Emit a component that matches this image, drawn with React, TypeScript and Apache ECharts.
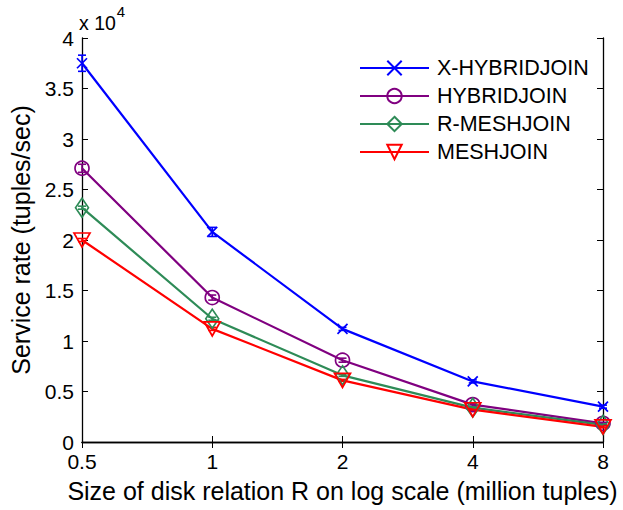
import React, { useEffect, useRef } from "react";
import * as echarts from "echarts";

const sizes = [0.5, 1, 2, 4, 8];
const xHybridjoin = [37500, 20800, 11200, 6000, 3500];
const hybridjoin = [27100, 14300, 8100, 3700, 1850];
const rMeshjoin = [23200, 12200, 6600, 3400, 1700];
const meshjoin = [20000, 11200, 6100, 3200, 1500];
const xHybridErr = [800, 450, 150, 150, 150];
const hybridErr = [400, 250, 200, 150, 100];
const rMeshErr = [150, 150, 100, 100, 100];
const meshErr = [150, 150, 100, 100, 100];
const yTicks = ["0", "0.5", "1", "1.5", "2", "2.5", "3", "3.5", "4"];

const FONT = "Liberation Sans, Arial, sans-serif";

export default function App() {
  const ref = useRef<HTMLDivElement>(null);
  useEffect(() => {
    if (!ref.current) return;
    const chart = echarts.init(ref.current, undefined, { renderer: "svg" });
    const seriesDefs = [
      { name: "X-HYBRIDJOIN", data: xHybridjoin, err: xHybridErr, color: "#0000ff", symbol: "path://M0,0L10,10M10,0L0,10", size: [10, 10] },
      { name: "HYBRIDJOIN", data: hybridjoin, err: hybridErr, color: "#800080", symbol: "circle", size: 14 },
      { name: "R-MESHJOIN", data: rMeshjoin, err: rMeshErr, color: "#2e8b57", symbol: "diamond", size: [13, 19] },
      { name: "MESHJOIN", data: meshjoin, err: meshErr, color: "#ff0000", symbol: "path://M0,0L10,0L5,9Z", size: [16, 14] },
    ];
    const lineSeries = seriesDefs.map((s) => ({
      name: s.name,
      type: "line",
      data: sizes.map((x, i) => [x, s.data[i]]),
      symbol: s.symbol,
      symbolSize: s.size,
      showAllSymbol: true,
      lineStyle: { color: s.color, width: 2.2 },
      itemStyle: { color: "rgba(255,255,255,0)", borderColor: s.color, borderWidth: 1.7 },
      z: 3,
    }));
    const errSeries = seriesDefs.map((s) => ({
      name: s.name + " err",
      type: "custom",
      data: sizes.map((x, i) => [x, s.data[i] - s.err[i], s.data[i] + s.err[i]]),
      renderItem: (params: any, api: any) => {
        const lo = api.coord([api.value(0), api.value(1)]);
        const hi = api.coord([api.value(0), api.value(2)]);
        const w = 4;
        const st = { stroke: s.color, lineWidth: 1.6 };
        return {
          type: "group",
          children: [
            { type: "line", shape: { x1: lo[0], y1: lo[1], x2: hi[0], y2: hi[1] }, style: st },
            { type: "line", shape: { x1: lo[0] - w, y1: lo[1], x2: lo[0] + w, y2: lo[1] }, style: st },
            { type: "line", shape: { x1: hi[0] - w, y1: hi[1], x2: hi[0] + w, y2: hi[1] }, style: st },
          ],
        };
      },
      z: 2,
      silent: true,
    }));
    const axisLine = { show: true, lineStyle: { color: "#000", width: 1.3 } };
    const tickStyle = { show: true, inside: true, length: 6, lineStyle: { color: "#000", width: 1 } };
    chart.setOption({
      animation: false,
      backgroundColor: "#fff",
      textStyle: { fontFamily: FONT },
      grid: { left: 80, right: 20, top: 38, bottom: 68, containLabel: false },
      legend: {
        orient: "vertical",
        left: 354,
        top: 52,
        itemWidth: 69,
        itemHeight: 18,
        itemGap: 6,
        data: seriesDefs.map((s) => s.name),
        textStyle: { fontFamily: FONT, fontSize: 21.5, color: "#000", padding: [0, 0, 0, 3] },
      },
      xAxis: [
        {
          type: "log",
          logBase: 2,
          min: 0.5,
          max: 8,
          position: "bottom",
          axisLine,
          axisTick: tickStyle,
          splitLine: { show: false },
          axisLabel: { color: "#000", fontSize: 21, fontFamily: FONT, margin: 9, formatter: (v: number) => String(v) },
          name: "Size of disk relation R on log scale (million tuples)",
          nameLocation: "middle",
          nameGap: 36,
          nameTextStyle: { color: "#000", fontSize: 25, fontFamily: FONT },
        },
        {
          type: "log",
          logBase: 2,
          min: 0.5,
          max: 8,
          position: "top",
          axisLine,
          axisTick: tickStyle,
          axisLabel: { show: false },
          splitLine: { show: false },
        },
      ],
      yAxis: [
        {
          type: "value",
          min: 0,
          max: 40000,
          interval: 5000,
          position: "left",
          axisLine,
          axisTick: tickStyle,
          splitLine: { show: false },
          axisLabel: { color: "#000", fontSize: 21, fontFamily: FONT, margin: 8, formatter: (v: number) => yTicks[Math.round(v / 5000)] },
          name: "Service rate (tuples/sec)",
          nameLocation: "middle",
          nameGap: 49,
          nameRotate: 90,
          nameTextStyle: { color: "#000", fontSize: 25, fontFamily: FONT },
        },
        {
          type: "value",
          min: 0,
          max: 40000,
          interval: 5000,
          position: "right",
          axisLine,
          axisTick: tickStyle,
          axisLabel: { show: false },
          splitLine: { show: false },
        },
      ],
      graphic: [
        {
          type: "text",
          left: 79,
          top: 4,
          style: {
            text: "{a|x 10}{b|4}",
            rich: {
              a: { fontSize: 19.5, fontFamily: FONT, fill: "#000", verticalAlign: "bottom", padding: [9, 0, 0, 0] },
              b: { fontSize: 15, fontFamily: FONT, fill: "#000", verticalAlign: "top", padding: [0, 0, 9, 1] },
            },
          },
        },
      ],
      series: [...errSeries, ...lineSeries],
    });
    return () => chart.dispose();
  }, []);
  return <div ref={ref} style={{ position: "fixed", left: 0, top: 0, width: 623, height: 510 }} />;
}
